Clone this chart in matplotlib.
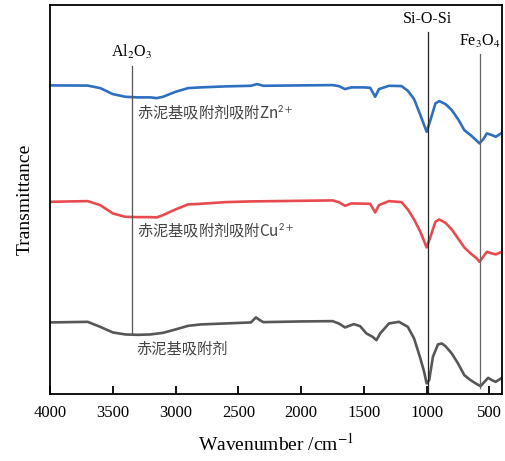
import numpy as np
import matplotlib
matplotlib.use("Agg")
import matplotlib.pyplot as plt

plt.rcParams['font.family'] = ['Liberation Serif', 'DejaVu Serif']
plt.rcParams['mathtext.fontset'] = 'stix'

# wavenumber (cm-1) and relative transmittance (arbitrary, offset curves)
wn_zn = [4000, 3700, 3600, 3500, 3400, 3300, 3200, 3150, 3100, 3000, 2900, 2800, 2600, 2400,
         2350, 2300, 2000, 1750, 1700, 1650, 1600, 1500, 1450, 1410, 1380, 1300, 1200, 1150,
         1100, 1050, 1000, 970, 930, 900, 850, 800, 750, 700, 650, 600, 580, 550, 520, 480, 450, 400]
t_zn = [314.7, 314.5, 312, 306, 303.3, 302.7, 302.7, 302, 303.3, 308.3, 312, 312.7, 313.7, 314.3,
        316, 314.3, 314.7, 315, 314, 311, 312.7, 312.7, 312.3, 303.3, 311, 314.3, 314, 309.3,
        301, 285, 268.3, 280, 296.7, 299, 296, 290, 281, 270, 265, 259.3, 256.7, 260.7, 266.7, 265, 263.3, 267.3]

wn_cu = [4000, 3700, 3600, 3500, 3400, 3300, 3200, 3150, 3100, 3000, 2900, 2800, 2600, 2400,
         2000, 1750, 1700, 1650, 1600, 1450, 1410, 1380, 1300, 1200, 1150, 1100, 1050, 1000,
         970, 930, 900, 850, 800, 750, 700, 650, 600, 580, 550, 520, 480, 450, 400]
t_cu = [198.3, 199, 195, 186.7, 183.3, 183, 183, 182.7, 185, 190.7, 195.7, 196.3, 198, 198.7,
        199.3, 199.7, 198, 194.3, 196.7, 196.3, 187.7, 195, 199, 198, 190.7, 180.7, 168.3, 152.7,
        163.3, 178.3, 180.7, 177.3, 170.7, 161.7, 152.7, 146.7, 141.7, 138.3, 143.3, 148.3, 146.7, 145.7, 148.3]

wn_raw = [4000, 3700, 3600, 3500, 3400, 3300, 3200, 3100, 3000, 2900, 2800, 2600, 2400, 2360,
          2320, 2300, 2000, 1750, 1700, 1650, 1580, 1530, 1480, 1430, 1400, 1370, 1300, 1220,
          1150, 1100, 1050, 1020, 1000, 980, 950, 910, 880, 850, 800, 750, 700, 650, 600, 570,
          540, 510, 480, 450, 400]
t_raw = [77.7, 78.3, 73.3, 67.7, 65.7, 65.3, 65.7, 67.3, 70.7, 74.3, 75.7, 76.7, 77.7, 82.7,
         79.3, 78, 78.7, 79, 76.7, 72.7, 76, 74, 66.7, 63.3, 60, 66.7, 76.7, 78.3,
         73.3, 61.7, 41.7, 28.3, 16.7, 20, 43.3, 55.7, 56.7, 54, 46.7, 36.7, 25, 20, 16, 14,
         18.3, 22.3, 20, 18.3, 22.3]

# band markers: (position, label, line top, line bottom, label y)
band_pos = [3350, 990, 575]
band_labels = ['Al$_2$O$_3$', 'Si-O-Si', 'Fe$_3$O$_4$']
band_top = [334, 368, 346]
band_bottom = [67, 6, 12]
band_text_y = [343, 377, 354]
band_colors = ['#555555', '#222222', '#666666']

fig = plt.figure(figsize=(5.05, 4.61), dpi=100)
ax = fig.add_axes([0.099, 0.145, 0.895, 0.844])

ax.plot(wn_zn, t_zn, color='#2f6fbf', lw=1.9)
ax.plot(wn_cu, t_cu, color='#e84a4f', lw=1.9)
ax.plot(wn_raw, t_raw, color='#575757', lw=1.9)

for x, lab, y0, y1, ty, c in zip(band_pos, band_labels, band_top, band_bottom, band_text_y, band_colors):
    ax.plot([x, x], [y1, y0], color=c, lw=0.9)
    ax.text(x, ty, lab, ha='center', va='baseline', fontsize=11.5)

cjk = ['Noto Sans CJK SC', 'DejaVu Sans']
ax.text(3305, 287, '赤泥基吸附剂吸附Zn$^{\\mathsf{2+}}$', family=cjk, fontsize=11, color='#444444', va='center')
ax.text(3310, 169, '赤泥基吸附剂吸附Cu$^{\\mathsf{2+}}$', family=cjk, fontsize=11, color='#444444', va='center')
ax.text(3310, 51, '赤泥基吸附剂', family=cjk, fontsize=11, color='#444444', va='center')

ax.set_xlim(4000, 400)
ax.set_ylim(6, 395)
ax.set_xticks([4000, 3500, 3000, 2500, 2000, 1500, 1000, 500])
ax.set_yticks([])
ax.tick_params(axis='x', direction='in', length=6, width=1.3, labelsize=12, pad=8)
for sp in ax.spines.values():
    sp.set_linewidth(1.3)

ax.set_xlabel('Wavenumber /cm$^{-1}$', fontsize=14, labelpad=8)
ax.set_ylabel('Transmittance', fontsize=14, labelpad=12)

fig.savefig('out.png', dpi=100)
